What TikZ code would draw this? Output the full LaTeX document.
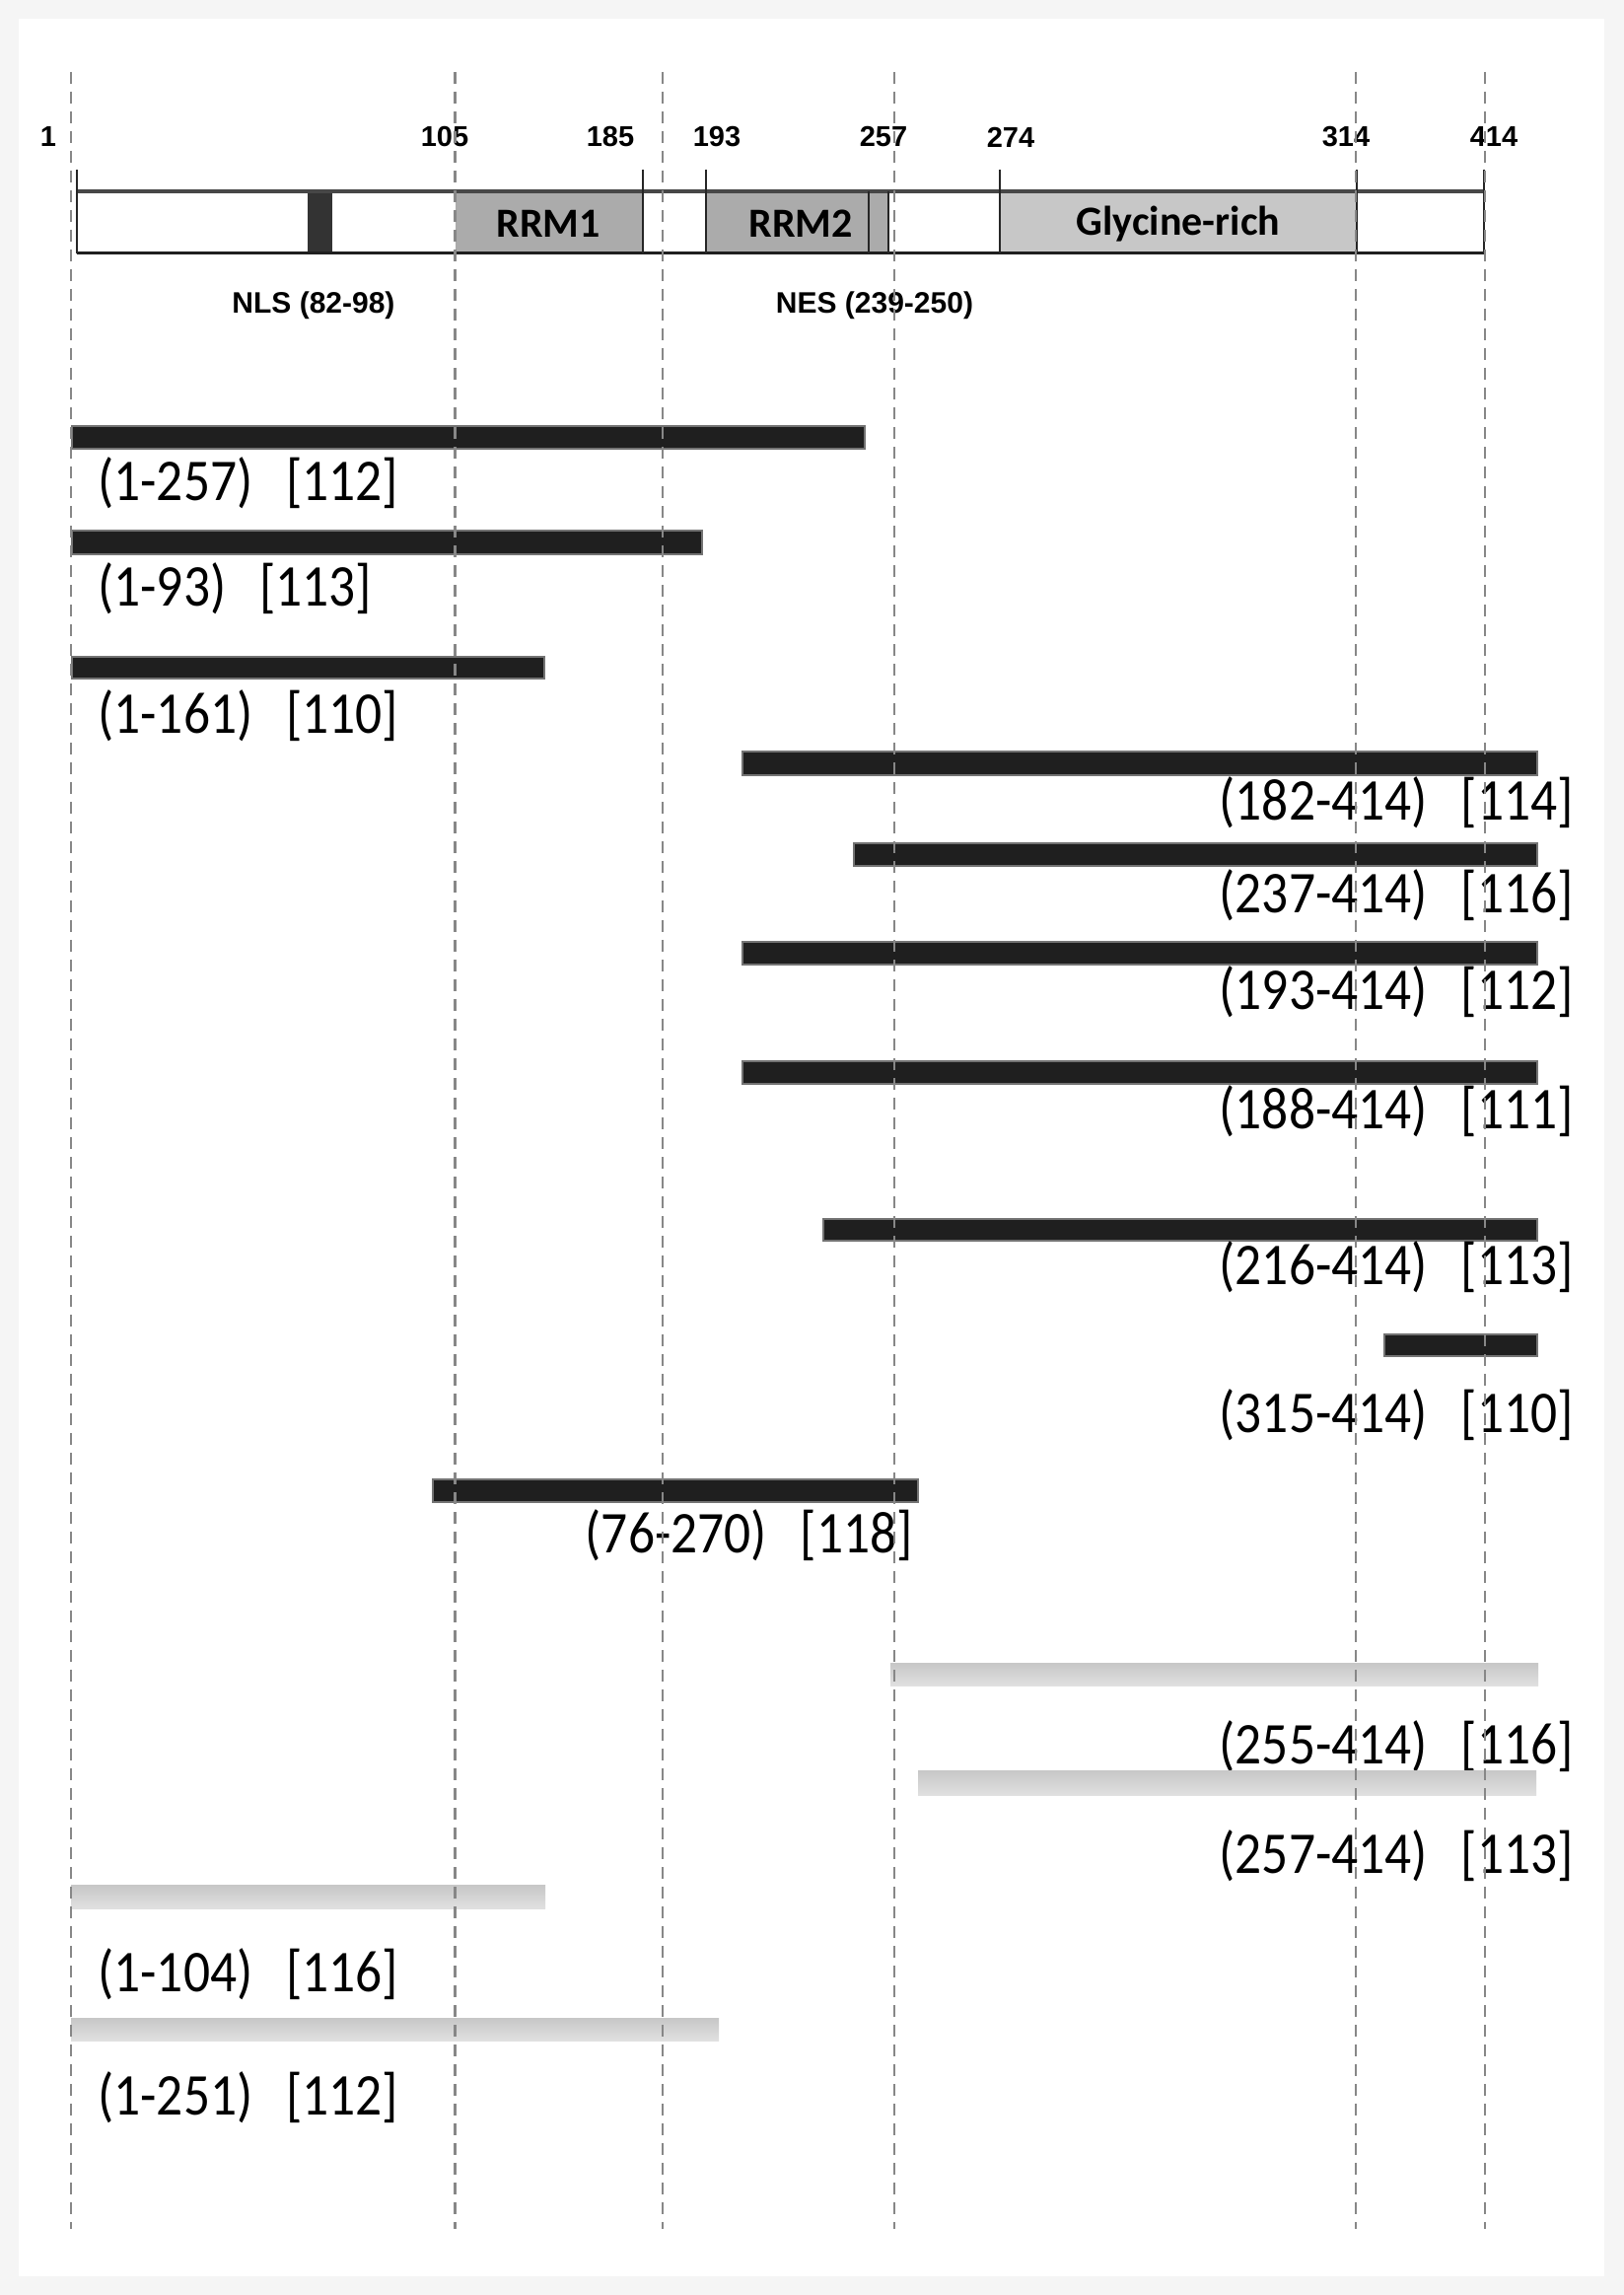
\documentclass[tikz,border=0pt]{standalone}
\usepackage{graphicx}
\usepackage{fontspec}
\setmainfont{Carlito}
\newfontfamily\numfont{Liberation Sans}
\begin{document}
\begin{tikzpicture}[x=0.5pt,y=-0.5pt,
  guide/.style={draw=black!47,line width=1.3pt,dash pattern=on 6pt off 4pt},
  blackbar/.style={fill=black!88,draw=black!55,line width=0.6pt},
  graybar/.style={top color=black!22,middle color=black!36,bottom color=black!12,draw=none},
  fraglabel/.style={font=\fontsize{30pt}{34pt}\selectfont,inner sep=0pt},
  poslabel/.style={font=\numfont\bfseries\fontsize{14.5pt}{17pt}\selectfont,inner sep=0pt},
  domlabel/.style={font=\bfseries\fontsize{21pt}{25pt}\selectfont,inner sep=0pt},
  tick/.style={draw=black!85,line width=1pt}]
\newcommand\fragtext[2]{\scalebox{0.89}[1]{#1\hspace{19pt}#2}}
% page
\useasboundingbox (0,0) rectangle (1647,2327);
\fill[black!4] (0,0) rectangle (1647,2327);
\fill[white] (19,19) rectangle (1627,2308);

% domain bar
\fill[white] (78,194) rectangle (1505,257);
\fill[black!33] (462,196) rectangle (652,255);
\fill[black!33] (716,196) rectangle (901,255);
\fill[black!22] (1014,196) rectangle (1376,255);
\fill[black!80] (312,196) rectangle (337,255);
\draw[draw=black!72,line width=2pt] (78,194) -- (1505,194);
\draw[draw=black!88,line width=1.5pt] (78,256.5) -- (1505,256.5);
\foreach \x in {78,652,716,1014,1376,1505} \draw[tick] (\x,172) -- (\x,257);
\foreach \x in {881,901} \draw[tick] (\x,194) -- (\x,257);

\node[domlabel] (rrm1) at (556,227) {RRM1};
\node[domlabel] (rrm2) at (812,227) {RRM2};
\node[domlabel] (gly) at (1195,227) {Glycine-rich};

\node[poslabel] (p1) at (49,139) {1};
\node[poslabel] (p105) at (451,139) {105};
\node[poslabel] (p185) at (619,139) {185};
\node[poslabel] (p193) at (727,139) {193};
\node[poslabel] (p257) at (896,139) {257};
\node[poslabel] (p274) at (1025,139) {274};
\node[poslabel] (p314) at (1365,139) {314};
\node[poslabel] (p414) at (1515,139) {414};

\node[poslabel,font=\numfont\bfseries\fontsize{15pt}{18pt}\selectfont] (nls) at (318,310) {NLS (82-98)};
\node[poslabel,font=\numfont\bfseries\fontsize{15pt}{18pt}\selectfont] (nes) at (887,310) {NES (239-250)};

% fragments (black)
\filldraw[blackbar] (73,432) rectangle (877,455);
\node[fraglabel,anchor=west] (f1) at (99,490) {\fragtext{(1-257)}{[112]}};
\filldraw[blackbar] (73,538) rectangle (712,562);
\node[fraglabel,anchor=west] (f2) at (99,597) {\fragtext{(1-93)}{[113]}};
\filldraw[blackbar] (73,666) rectangle (552,688);
\node[fraglabel,anchor=west] (f3) at (99,726) {\fragtext{(1-161)}{[110]}};
\filldraw[blackbar] (753,762) rectangle (1559,786);
\node[fraglabel,anchor=east] (f4) at (1596,814) {\fragtext{(182-414)}{[114]}};
\filldraw[blackbar] (866,855) rectangle (1559,878);
\node[fraglabel,anchor=east] (f5) at (1596,908) {\fragtext{(237-414)}{[116]}};
\filldraw[blackbar] (753,955) rectangle (1559,978);
\node[fraglabel,anchor=east] (f6) at (1596,1006) {\fragtext{(193-414)}{[112]}};
\filldraw[blackbar] (753,1076) rectangle (1559,1099);
\node[fraglabel,anchor=east] (f7) at (1596,1127) {\fragtext{(188-414)}{[111]}};
\filldraw[blackbar] (835,1236) rectangle (1559,1258);
\node[fraglabel,anchor=east] (f8) at (1596,1285) {\fragtext{(216-414)}{[113]}};
\filldraw[blackbar] (1404,1353) rectangle (1559,1375);
\node[fraglabel,anchor=east] (f9) at (1596,1435) {\fragtext{(315-414)}{[110]}};
\filldraw[blackbar] (439,1500) rectangle (931,1523);
\node[fraglabel,anchor=east] (f10) at (926,1557) {\fragtext{(76-270)}{[118]}};
% fragments (gray)
\shade[graybar] (903,1686) rectangle (1560,1709);
\node[fraglabel,anchor=east] (f11) at (1596,1771) {\fragtext{(255-414)}{[116]}};
\shade[graybar] (931,1795) rectangle (1558,1820);
\node[fraglabel,anchor=east] (f12) at (1596,1882) {\fragtext{(257-414)}{[113]}};
\shade[graybar] (72,1911) rectangle (553,1935);
\node[fraglabel,anchor=west] (f13) at (99,2002) {\fragtext{(1-104)}{[116]}};
\shade[graybar] (72,2046) rectangle (729,2069);
\node[fraglabel,anchor=west] (f14) at (99,2127) {\fragtext{(1-251)}{[112]}};

% guide lines
\foreach \x in {72,461.5,672,907,1375,1506} \draw[guide] (\x,73) -- (\x,2260);
\end{tikzpicture}
\end{document}
